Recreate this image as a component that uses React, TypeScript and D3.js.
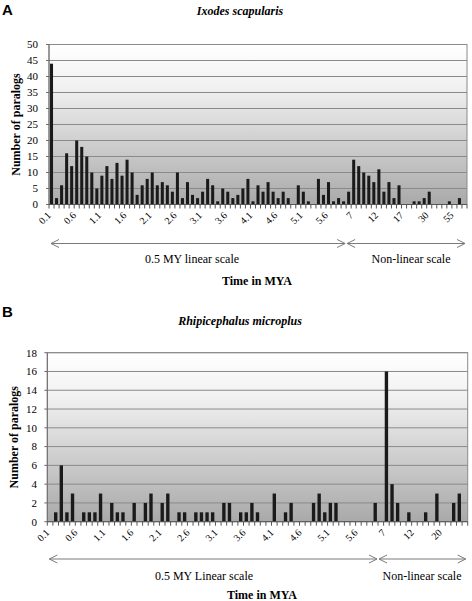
import React from "react";
import * as d3 from "d3";

const W = 472;
const H = 601;

// ---------- Data ----------
const linearCats = [
  "0.1","0.2","0.3","0.4","0.5","0.6","0.7","0.8","0.9","1.0",
  "1.1","1.2","1.3","1.4","1.5","1.6","1.7","1.8","1.9","2.0",
  "2.1","2.2","2.3","2.4","2.5","2.6","2.7","2.8","2.9","3.0",
  "3.1","3.2","3.3","3.4","3.5","3.6","3.7","3.8","3.9","4.0",
  "4.1","4.2","4.3","4.4","4.5","4.6","4.7","4.8","4.9","5.0",
  "5.1","5.2","5.3","5.4","5.5","5.6","5.7","5.8","5.9",
];
const nonLinearCatsA = ["6","7","8","9","10","11","12","13","14","15","16","17","18","19","20","25","30","35","40","45","50","55","60","65"];
const nonLinearCatsB = ["6","7","8","9","10","11","12","13","14","15","17","20","21","22","23","25"];

const categoriesA = [...linearCats, ...nonLinearCatsA];
const categoriesB = [...linearCats, ...nonLinearCatsB];

const valuesA = [
  44, 2, 6, 16, 12, 20, 18, 15, 10, 5,
  9, 12, 8, 13, 9, 14, 10, 3, 6, 8,
  10, 6, 7, 6, 4, 10, 2, 7, 3, 2,
  4, 8, 6, 1, 5, 4, 2, 3, 5, 8,
  1, 6, 4, 7, 4, 2, 4, 2, 0, 6,
  4, 1, 0, 8, 3, 7, 1, 2, 1, 4,
  14, 12, 10, 9, 7, 11, 4, 7, 2, 6,
  0, 0, 1, 1, 2, 4, 0, 0, 0, 1,
  0, 2, 0,
];

const valuesB = [
  0, 1, 6, 1, 3, 0, 1, 1, 1, 3,
  0, 2, 1, 1, 0, 2, 0, 2, 3, 0,
  2, 3, 0, 1, 1, 0, 1, 1, 1, 1,
  0, 2, 2, 0, 1, 1, 2, 1, 0, 0,
  3, 0, 1, 2, 0, 0, 0, 2, 3, 1,
  2, 2, 0, 0, 0, 0, 0, 0, 2, 0,
  16, 4, 2, 0, 1, 0, 0, 1, 0, 3,
  0, 0, 2, 3, 0,
];

const yTicksA = [0, 5, 10, 15, 20, 25, 30, 35, 40, 45, 50];
const yTicksB = [0, 2, 4, 6, 8, 10, 12, 14, 16, 18];

const SERIF = "Liberation Serif";
const SANS = "Liberation Sans";

type PanelProps = {
  id: string;
  letter: string;
  title: string;
  letterY: number;
  titleY: number;
  cats: string[];
  values: number[];
  yTicks: number[];
  left: number;
  right: number;
  top: number;
  bottom: number;
  boundaryIndex: number;
  arrowY: number;
  linearLabel: string;
  linearLabelX: number;
  nonLinearLabelX: number;
  scaleLabelY: number;
  axisTitleX: number;
  axisTitleY: number;
  yTitleX: number;
  yLabelX: number;
};

function Panel(p: PanelProps) {
  const x = d3.scaleBand<string>().domain(p.cats).range([p.left, p.right]).padding(0);
  const yMax = p.yTicks[p.yTicks.length - 1];
  const y = d3.scaleLinear().domain([0, yMax]).range([p.bottom, p.top]);
  const bw = x.bandwidth();
  const barW = bw * 0.6;
  const gradId = `grad-${p.id}`;
  const boundaryX = (x(p.cats[p.boundaryIndex]) as number);
  const ah = 4;
  const arrowColor = "#7a7a7a";
  const leftArrowStart = (x(p.cats[0]) as number) + 2;
  const rightArrowEnd = p.right - 2;

  return (
    <g>
      <defs>
        <linearGradient id={gradId} x1="0" y1="0" x2="0" y2="1">
          <stop offset="0%" stopColor="#ffffff" />
          <stop offset="25%" stopColor="#f2f2f2" />
          <stop offset="100%" stopColor="#a9a9a9" />
        </linearGradient>
      </defs>
      <text x={2} y={p.letterY} style={{ fontFamily: SANS }} fontWeight="bold" fontSize={15} fill="#000">
        {p.letter}
      </text>
      <text
        x={240}
        y={p.titleY}
        textAnchor="middle"
        style={{ fontFamily: SERIF }}
        fontWeight="bold"
        fontStyle="italic"
        fontSize={12}
        fill="#000"
      >
        {p.title}
      </text>
      <rect x={p.left} y={p.top} width={p.right - p.left} height={p.bottom - p.top} fill={`url(#${gradId})`} stroke="#8a8a8a" strokeWidth={1} />
      {p.yTicks.slice(1).map((t) => (
        <line key={t} x1={p.left} x2={p.right} y1={y(t)} y2={y(t)} stroke="#8a8a8a" strokeWidth={1} />
      ))}
      {p.values.map((v, i) =>
        v > 0 ? (
          <rect
            key={i}
            x={(x(p.cats[i]) as number) + (bw - barW) / 2}
            y={y(v)}
            width={barW}
            height={p.bottom - y(v)}
            fill="#1a1a1a"
          />
        ) : null
      )}
      <line x1={p.left} x2={p.left} y1={p.top} y2={p.bottom} stroke="#6e6e6e" strokeWidth={1} />
      {p.yTicks.map((t) => (
        <g key={t}>
          <line x1={p.left - 3} x2={p.left} y1={y(t)} y2={y(t)} stroke="#6e6e6e" />
          <text x={p.yLabelX} y={y(t)} dy="0.35em" textAnchor="end" style={{ fontFamily: SERIF }} fontSize={11} fill="#000">
            {t}
          </text>
        </g>
      ))}
      <text
        transform={`translate(${p.yTitleX},${(p.top + p.bottom) / 2}) rotate(-90)`}
        textAnchor="middle"
        style={{ fontFamily: SERIF }}
        fontWeight="bold"
        fontSize={12}
        fill="#000"
      >
        Number of paralogs
      </text>
      <line x1={p.left} x2={p.right} y1={p.bottom} y2={p.bottom} stroke="#555" strokeWidth={1} />
      {p.cats.map((c, i) => (
        <line
          key={c + i}
          x1={(x(c) as number)}
          x2={(x(c) as number)}
          y1={p.bottom}
          y2={p.bottom + 4}
          stroke="#555"
        />
      ))}
      <line x1={p.right} x2={p.right} y1={p.bottom} y2={p.bottom + 4} stroke="#555" />
      {p.cats.map((c, i) =>
        i % 5 === 0 ? (
          <text
            key={"l" + i}
            transform={`translate(${(x(c) as number) + bw / 2 - 2.5},${p.bottom + 9}) rotate(-45)`}
            textAnchor="end"
            dy="0.35em"
            style={{ fontFamily: SERIF }}
            fontSize={10}
            fill="#000"
          >
            {c}
          </text>
        ) : null
      )}
      <g stroke={arrowColor} strokeWidth={1} fill="none">
        <line x1={leftArrowStart} x2={boundaryX - 1} y1={p.arrowY} y2={p.arrowY} />
        <polyline points={`${leftArrowStart + ah * 2},${p.arrowY - ah} ${leftArrowStart},${p.arrowY} ${leftArrowStart + ah * 2},${p.arrowY + ah}`} />
        <polyline points={`${boundaryX - 1 - ah * 2},${p.arrowY - ah} ${boundaryX - 1},${p.arrowY} ${boundaryX - 1 - ah * 2},${p.arrowY + ah}`} />
        <line x1={boundaryX + 1} x2={rightArrowEnd} y1={p.arrowY} y2={p.arrowY} />
        <polyline points={`${boundaryX + 1 + ah * 2},${p.arrowY - ah} ${boundaryX + 1},${p.arrowY} ${boundaryX + 1 + ah * 2},${p.arrowY + ah}`} />
        <polyline points={`${rightArrowEnd - ah * 2},${p.arrowY - ah} ${rightArrowEnd},${p.arrowY} ${rightArrowEnd - ah * 2},${p.arrowY + ah}`} />
      </g>
      <text x={p.linearLabelX} y={p.scaleLabelY} textAnchor="middle" style={{ fontFamily: SERIF }} fontSize={12} fill="#000">
        {p.linearLabel}
      </text>
      <text x={p.nonLinearLabelX} y={p.scaleLabelY} textAnchor="middle" style={{ fontFamily: SERIF }} fontSize={12} fill="#000">
        Non-linear scale
      </text>
      <text x={p.axisTitleX} y={p.axisTitleY} textAnchor="middle" style={{ fontFamily: SERIF }} fontWeight="bold" fontSize={12} fill="#000">
        Time in MYA
      </text>
    </g>
  );
}

export default function App() {
  return (
    <svg
      width={W}
      height={H}
      viewBox={`0 0 ${W} ${H}`}
      style={{ position: "absolute", left: 0, top: 0, background: "#fff" }}
    >
      <rect x={0} y={0} width={W} height={H} fill="#fff" />
      <Panel
        id="a"
        letter="A"
        title="Ixodes scapularis"
        letterY={15}
        titleY={15}
        cats={categoriesA}
        values={valuesA}
        yTicks={yTicksA}
        left={49}
        right={467}
        top={44.5}
        bottom={204.5}
        boundaryIndex={59}
        arrowY={243.5}
        linearLabel="0.5 MY linear scale"
        linearLabelX={192}
        nonLinearLabelX={411}
        scaleLabelY={263}
        axisTitleX={257}
        axisTitleY={285}
        yTitleX={20}
        yLabelX={38}
      />
      <Panel
        id="b"
        letter="B"
        title="Rhipicephalus microplus"
        letterY={317}
        titleY={325}
        cats={categoriesB}
        values={valuesB}
        yTicks={yTicksB}
        left={47.3}
        right={467.7}
        top={352.7}
        bottom={521.7}
        boundaryIndex={59}
        arrowY={559}
        linearLabel="0.5 MY Linear scale"
        linearLabelX={204}
        nonLinearLabelX={422}
        scaleLabelY={580}
        axisTitleX={262}
        axisTitleY={599}
        yTitleX={18}
        yLabelX={37}
      />
    </svg>
  );
}
